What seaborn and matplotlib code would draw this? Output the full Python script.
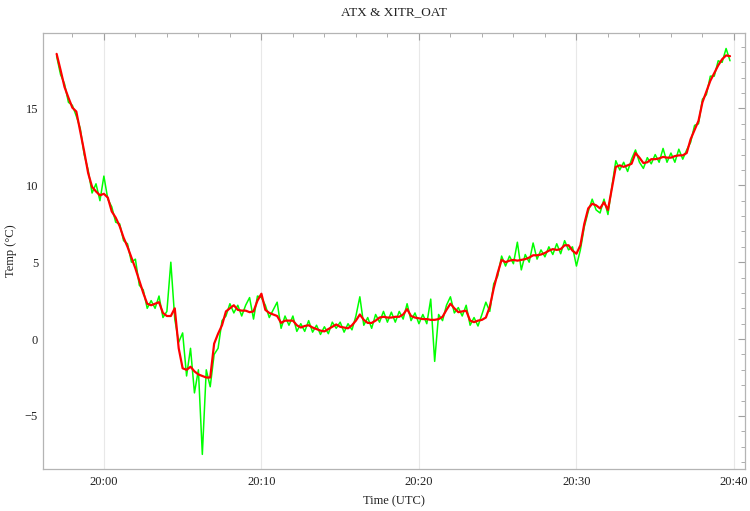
import pandas as pd
import seaborn as sns
import matplotlib
matplotlib.use('Agg')
import matplotlib.pyplot as plt
import matplotlib.dates as mdates
from matplotlib.ticker import MultipleLocator

# samples every 15 s starting 19:57:00 (UTC)
start_time = '2024-01-01 19:57:00'
step = '15s'

atx = [
    18.55, 17.5, 16.4, 15.7, 15.05, 14.8, 13.5, 12.2, 10.8, 9.9, 9.6, 9.35,
    9.45, 9.2, 8.3, 7.9, 7.35, 6.6, 6.0, 5.3, 4.6, 3.8, 3.0, 2.3,
    2.2, 2.3, 2.4, 1.7, 1.5, 1.5, 2.0, -0.6, -1.9, -2.0, -1.8, -2.1,
    -2.3, -2.4, -2.5, -2.5, -0.3, 0.35, 0.9, 1.8, 2.0, 2.2, 1.9, 1.85,
    1.85, 1.75, 1.8, 2.5, 2.95, 1.9, 1.7, 1.6, 1.5, 1.05, 1.2, 1.2,
    1.2, 0.9, 0.75, 0.85, 0.9, 0.75, 0.65, 0.55, 0.5, 0.65, 0.8, 0.95,
    0.8, 0.75, 0.7, 0.9, 1.2, 1.6, 1.25, 1.05, 1.05, 1.2, 1.4, 1.45,
    1.4, 1.4, 1.45, 1.45, 1.6, 1.95, 1.5, 1.4, 1.35, 1.3, 1.3, 1.25,
    1.25, 1.3, 1.45, 1.9, 2.3, 2.0, 1.75, 1.8, 1.85, 1.2, 1.1, 1.2,
    1.25, 1.4, 2.1, 3.3, 4.3, 5.15, 5.0, 5.1, 5.15, 5.1, 5.15, 5.2,
    5.3, 5.45, 5.45, 5.5, 5.6, 5.75, 5.85, 5.8, 5.85, 6.1, 6.1, 5.75,
    5.55, 6.1, 7.5, 8.5, 8.8, 8.7, 8.5, 8.9, 8.4, 9.8, 11.2, 11.3,
    11.2, 11.3, 11.4, 12.1, 11.8, 11.45, 11.5, 11.7, 11.7, 11.75, 11.85, 11.8,
    11.8, 11.9, 11.95, 11.95, 12.1, 13.0, 13.6, 14.2, 15.4, 16.1, 16.8, 17.3,
    17.8, 18.2, 18.45, 18.4,
]

xitr_oat = [
    18.4, 17.2, 16.6, 15.4, 15.2, 14.5, 13.7, 12.0, 11.0, 9.5, 10.1, 9.0,
    10.6, 9.1, 8.6, 7.6, 7.5, 6.4, 6.2, 5.0, 5.2, 3.5, 3.2, 2.0,
    2.5, 2.0, 2.8, 1.4, 1.8, 5.0, 1.3, -0.2, 0.4, -2.4, -0.6, -3.5,
    -2.0, -7.5, -2.0, -3.1, -1.0, -0.6, 1.2, 1.5, 2.3, 1.7, 2.2, 1.5,
    2.2, 2.7, 1.3, 2.8, 2.7, 2.2, 1.4, 1.9, 2.4, 0.7, 1.5, 0.9,
    1.5, 0.5, 1.0, 0.5, 1.2, 0.45, 0.9, 0.3, 0.8, 0.35, 1.1, 0.7,
    1.1, 0.45, 1.0, 0.6, 1.5, 2.75, 0.9, 1.4, 0.7, 1.6, 1.1, 1.8,
    1.1, 1.75, 1.1, 1.8, 1.3, 2.3, 1.2, 1.7, 1.0, 1.6, 1.0, 2.6,
    -1.45, 1.6, 1.2, 2.2, 2.75, 1.7, 2.05, 1.5, 2.2, 0.9, 1.4, 0.85,
    1.6, 2.4, 1.8, 3.6, 4.1, 5.4, 4.75, 5.4, 4.9, 6.3, 4.5, 5.5,
    5.0, 6.25, 5.2, 5.8, 5.35, 6.0, 5.5, 6.2, 5.55, 6.4, 5.8, 6.0,
    4.75, 5.8, 7.3, 8.3, 9.1, 8.4, 8.2, 9.1, 8.1, 9.9, 11.6, 11.0,
    11.5, 10.9, 11.7, 12.3, 11.5, 11.1, 11.8, 11.4, 12.0, 11.5, 12.4, 11.5,
    12.1, 11.5, 12.35, 11.7, 12.3, 12.8, 13.9, 14.0, 15.6, 15.9, 17.1, 17.1,
    18.1, 18.0, 18.9, 18.1,
]

times = pd.date_range(start_time, periods=len(atx), freq=step)
df = pd.concat([
    pd.DataFrame({'time': times, 'Temp': xitr_oat, 'Sensor': 'XITR_OAT'}),
    pd.DataFrame({'time': times, 'Temp': atx, 'Sensor': 'ATX'}),
])

sns.set_theme(style='white')
plt.rcParams['font.family'] = ['Liberation Serif', 'DejaVu Serif']

fig = plt.figure(figsize=(7.5, 5.11), dpi=100)
ax = fig.add_axes([0.0573, 0.0822, 0.936, 0.853])

sns.lineplot(data=df[df['Sensor'] == 'XITR_OAT'], x='time', y='Temp', color='#00ff00', linewidth=1.1, ax=ax)
sns.lineplot(data=df[df['Sensor'] == 'ATX'], x='time', y='Temp', color='#ff0000', linewidth=1.6, ax=ax)

ax.set_xlim(pd.Timestamp('2024-01-01 19:56:08'), pd.Timestamp('2024-01-01 20:40:42'))
ax.set_ylim(-8.45, 19.9)

ax.xaxis.set_major_locator(mdates.MinuteLocator(byminute=range(0, 60, 10)))
ax.xaxis.set_minor_locator(mdates.MinuteLocator(byminute=range(0, 60, 2)))
ax.xaxis.set_major_formatter(mdates.DateFormatter('%H:%M'))
ax.yaxis.set_major_locator(MultipleLocator(5))
ax.yaxis.set_minor_locator(MultipleLocator(1))

ax.grid(axis='x', which='major', color='#e8e8e8', linewidth=0.8)
ax.set_axisbelow(True)
for s in ax.spines.values():
    s.set_color('#b4b4b4')
    s.set_linewidth(0.9)

ax.tick_params(which='both', direction='in', top=True, right=True, color='#a0a0a0',
               labelsize=9, labelcolor='#222222')
ax.tick_params(axis='x', pad=5)
ax.tick_params(axis='y', pad=3.5)
ax.tick_params(which='major', length=5, width=0.8)
ax.tick_params(which='minor', length=3, width=0.6)

ax.set_title('ATX & XITR_OAT', fontsize=9.5, color='#222222', pad=13)
ax.set_xlabel('Time (UTC)', fontsize=9, color='#222222', labelpad=5)
ax.set_ylabel('Temp (°C)', fontsize=9, color='#222222', labelpad=6)

fig.savefig('out.png', dpi=100)
